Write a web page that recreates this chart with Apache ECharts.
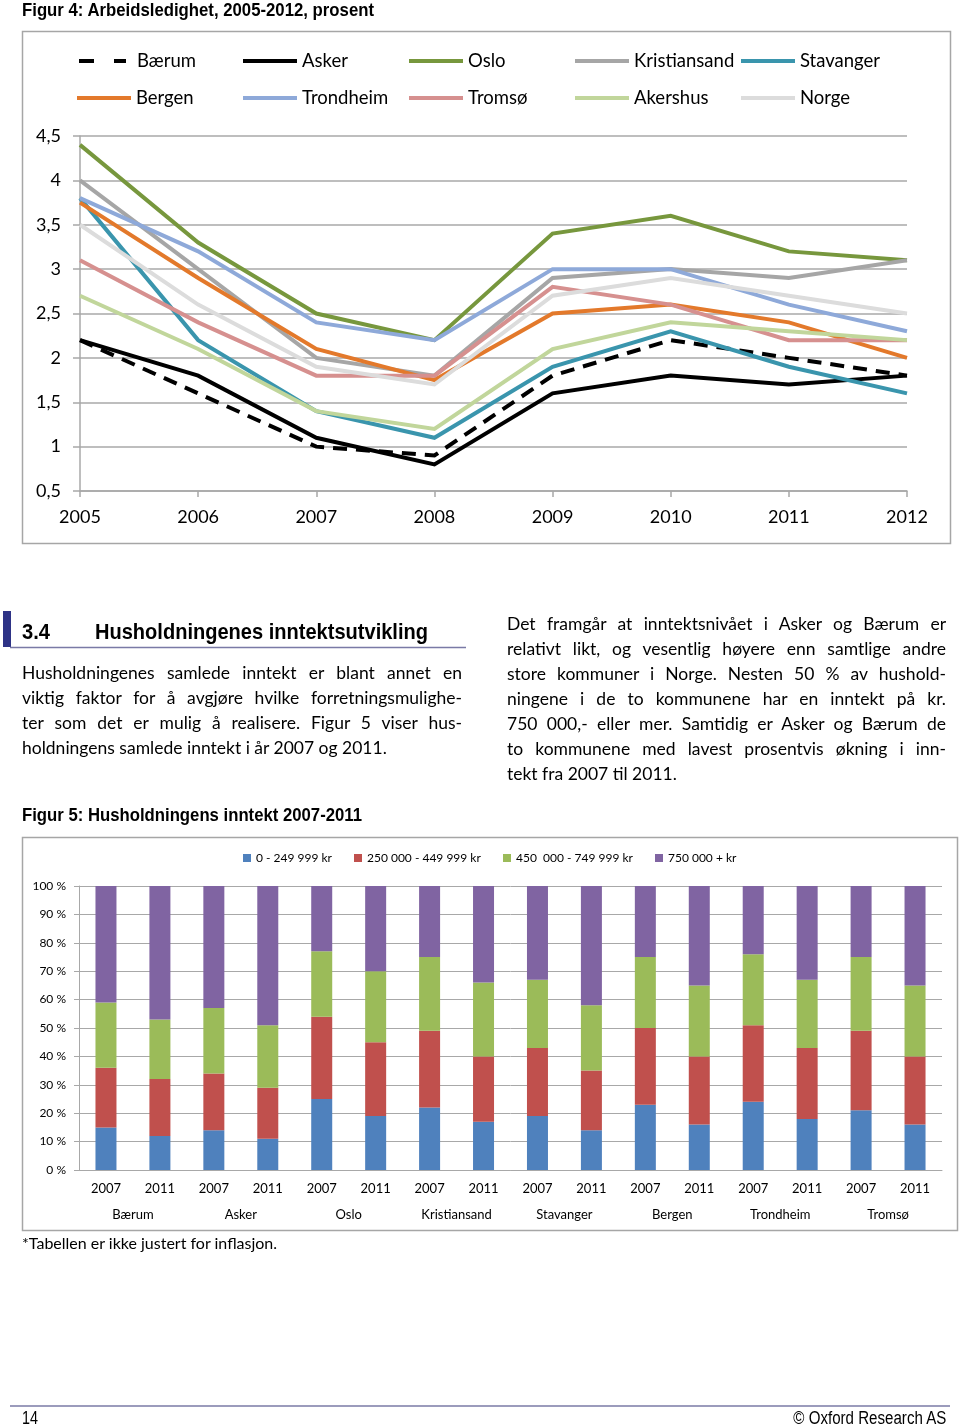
<!DOCTYPE html>
<html><head><meta charset="utf-8">
<script src="https://cdn.jsdelivr.net/npm/echarts@6/dist/echarts.min.js"></script>
<style>
html,body{margin:0;padding:0;background:#fff;}
#page{position:relative;width:960px;height:1426px;overflow:hidden;background:#fff;}
#chart{position:absolute;left:0;top:0;width:960px;height:1426px;}
.t{position:absolute;white-space:nowrap;color:#000;}
.narrow{font-family:"Liberation Sans",Arial,sans-serif;transform-origin:0 50%;}
.para{position:absolute;font-family:Lato,sans-serif;font-size:17.5px;color:#000;}
.para div{height:25px;line-height:25px;text-align:justify;text-align-last:justify;}
.para div.last{text-align-last:left;}
</style></head>
<body>
<div id="page">
<div id="chart"></div>
<div class="t narrow" data-w="352" style="left:22px;top:0px;font-size:19px;line-height:20px;font-weight:bold;">Figur 4: Arbeidsledighet, 2005-2012, prosent</div>
<div class="t narrow" data-w="28" style="left:22px;top:619px;font-size:22px;line-height:26px;font-weight:bold;">3.4</div>
<div class="t narrow" data-w="333" style="left:95px;top:619px;font-size:22px;line-height:26px;font-weight:bold;">Husholdningenes inntektsutvikling</div>
<div class="para" style="left:22px;top:660px;width:440px;">
<div>Husholdningenes samlede inntekt er blant annet en</div>
<div>viktig faktor for å avgjøre hvilke forretningsmulighe-</div>
<div>ter som det er mulig å realisere. Figur 5 viser hus-</div>
<div class="last">holdningens samlede inntekt i år 2007 og 2011.</div>
</div>
<div class="para" style="left:507px;top:611px;width:439px;">
<div>Det framgår at inntektsnivået i Asker og Bærum er</div>
<div>relativt likt, og vesentlig høyere enn samtlige andre</div>
<div>store kommuner i Norge. Nesten 50 % av hushold-</div>
<div>ningene i de to kommunene har en inntekt på kr.</div>
<div>750 000,- eller mer. Samtidig er Asker og Bærum de</div>
<div>to kommunene med lavest prosentvis økning i inn-</div>
<div class="last">tekt fra 2007 til 2011.</div>
</div>
<div class="t narrow" data-w="340" style="left:22px;top:805px;font-size:19px;line-height:20px;font-weight:bold;">Figur 5: Husholdningens inntekt 2007-2011</div>
<div class="t" style="left:22px;top:1233px;font-family:Lato,sans-serif;font-size:16px;line-height:20px;">*Tabellen er ikke justert for inflasjon.</div>
<div class="t narrow" data-w="16" style="left:22px;top:1408px;font-size:18px;line-height:20px;">14</div>
<div class="t narrow" data-w="153" data-right="1" style="right:14px;top:1408px;font-size:18px;line-height:20px;">© Oxford Research AS</div>
</div>
<script>
// ---------- Figure 4 data ----------
const years = ['2005','2006','2007','2008','2009','2010','2011','2012'];
const yTicks = [0.5, 4.5, 0.5]; // min, max, interval
const baerum       = [2.2, 1.6, 1.0, 0.9, 1.8, 2.2, 2.0, 1.8];
const asker        = [2.2, 1.8, 1.1, 0.8, 1.6, 1.8, 1.7, 1.8];
const oslo         = [4.4, 3.3, 2.5, 2.2, 3.4, 3.6, 3.2, 3.1];
const kristiansand = [4.0, 3.0, 2.0, 1.8, 2.9, 3.0, 2.9, 3.1];
const stavanger    = [3.8, 2.2, 1.4, 1.1, 1.9, 2.3, 1.9, 1.6];
const bergen       = [3.75, 2.9, 2.1, 1.75, 2.5, 2.6, 2.4, 2.0];
const trondheim    = [3.8, 3.2, 2.4, 2.2, 3.0, 3.0, 2.6, 2.3];
const tromso       = [3.1, 2.4, 1.8, 1.8, 2.8, 2.6, 2.2, 2.2];
const akershus     = [2.7, 2.1, 1.4, 1.2, 2.1, 2.4, 2.3, 2.2];
const norge        = [3.5, 2.6, 1.9, 1.7, 2.7, 2.9, 2.7, 2.5];
const lineNames = ['Bærum','Asker','Oslo','Kristiansand','Stavanger','Bergen','Trondheim','Tromsø','Akershus','Norge'];
const lineData = [baerum, asker, oslo, kristiansand, stavanger, bergen, trondheim, tromso, akershus, norge];

// ---------- Figure 5 data ----------
const barYears = ['2007','2011','2007','2011','2007','2011','2007','2011','2007','2011','2007','2011','2007','2011','2007','2011'];
const cities = ['Bærum','Asker','Oslo','Kristiansand','Stavanger','Bergen','Trondheim','Tromsø'];
const incomeNames = ['0 - 249 999 kr','250 000 - 449 999 kr','450  000 - 749 999 kr','750 000 + kr'];
const inc0   = [15,12,14,11,25,19,22,17,19,14,23,16,24,18,21,16];
const inc250 = [21,20,20,18,29,26,27,23,24,21,27,24,27,25,28,24];
const inc450 = [23,21,23,22,23,25,26,26,24,23,25,25,25,24,26,25];
const inc750 = [41,47,43,49,23,30,25,34,33,42,25,35,24,33,25,35];
const incomeData = [inc0, inc250, inc450, inc750];

// condense heading texts (narrow typeface substitute)
document.querySelectorAll('[data-w]').forEach(el => {
  const w = el.getBoundingClientRect().width;
  const target = parseFloat(el.dataset.w);
  if (el.dataset.right) el.style.transformOrigin = '100% 50%';
  el.style.transform = 'scaleX(' + (target / w) + ')';
});

// ---------- styles ----------
const lineColors = ['#000000','#000000','#77973d','#a6a6a6','#3a95ad','#e3792b','#8ea9d9','#d6908f','#c1d69b','#dcdcdc'];
const barColors = ['#4f81bd','#c0504d','#9bbb59','#8064a2'];
const gridGray = '#a8a8a8';
const FONT = 'Lato, sans-serif';

const chart = echarts.init(document.getElementById('chart'), null, {renderer:'canvas'});

const series = [];
lineNames.forEach((n, i) => {
  series.push({
    name: n, type: 'line', xAxisIndex: 0, yAxisIndex: 0,
    data: lineData[i], symbol: 'none', showSymbol: false, silent: true,
    lineStyle: { color: lineColors[i], width: 4, type: i === 0 ? [14, 9] : 'solid', cap: 'butt', join: 'miter' },
    itemStyle: { color: lineColors[i] },
    animation: false
  });
});
incomeNames.forEach((n, i) => {
  series.push({
    name: n, type: 'bar', stack: 'inc', xAxisIndex: 1, yAxisIndex: 1,
    data: incomeData[i], barWidth: 21, silent: true,
    itemStyle: { color: barColors[i] }, animation: false
  });
});

const legends = [];
const legendCols = [77, 243, 409, 575, 741];
lineNames.forEach((n, i) => {
  const first = i === 0;
  const item = first
    ? { name: n, icon: 'path://M0,0H15V4H0Z M35,0H47V4H35Z' }
    : { name: n, icon: 'rect' };
  legends.push({
    data: [item], left: first ? 79 : legendCols[i % 5], top: i < 5 ? 50 : 87, padding: 0,
    itemWidth: first ? 47 : 54, itemHeight: 4, selectedMode: false, symbolKeepAspect: false,
    textStyle: { fontFamily: FONT, fontSize: 18.5, color: '#000', lineHeight: 22,
      padding: first ? [0, 0, 0, 6] : 0 }
  });
});
const barLegendLefts = [243, 354, 503, 655];
incomeNames.forEach((n, i) => {
  legends.push({
    data: [{ name: n, icon: 'rect' }], left: barLegendLefts[i], top: 851, padding: 0,
    itemWidth: 8, itemHeight: 8, selectedMode: false,
    textStyle: { fontFamily: FONT, fontSize: 12, color: '#000', lineHeight: 14 }
  });
});

const option = {
  backgroundColor: 'transparent',
  animation: false,
  grid: [
    { left: 80, top: 136, width: 827, height: 355, containLabel: false },
    { left: 79, top: 886, width: 863, height: 284, containLabel: false }
  ],
  legend: legends,
  xAxis: [
    { gridIndex: 0, type: 'category', data: years, boundaryGap: false,
      axisLine: { lineStyle: { color: gridGray, width: 1.5 } },
      axisTick: { length: 6, lineStyle: { color: gridGray, width: 1.5 }, alignWithLabel: true },
      axisLabel: { fontFamily: FONT, fontSize: 18, color: '#000', margin: 17 },
      splitLine: { show: false } },
    { gridIndex: 1, type: 'category', data: barYears, boundaryGap: true,
      axisLine: { lineStyle: { color: gridGray, width: 1 } },
      axisTick: { length: 30, interval: 0, lineStyle: { color: '#c8c8c8', width: 1 } },
      axisLabel: { fontFamily: FONT, fontSize: 13, color: '#000', margin: 12, interval: 0 },
      splitLine: { show: false } },
    { gridIndex: 1, type: 'category', data: cities, boundaryGap: true, position: 'bottom',
      axisLine: { show: false },
      axisTick: { length: 55, interval: 0, lineStyle: { color: '#c8c8c8', width: 1 } },
      axisLabel: { fontFamily: FONT, fontSize: 13, color: '#000', margin: 38, interval: 0 },
      splitLine: { show: false } }
  ],
  yAxis: [
    { gridIndex: 0, type: 'value', min: yTicks[0], max: yTicks[1], interval: yTicks[2],
      axisLine: { show: true, lineStyle: { color: gridGray, width: 1.5 } },
      axisTick: { show: true, length: 7, lineStyle: { color: gridGray, width: 1.5 } },
      axisLabel: { fontFamily: FONT, fontSize: 18, color: '#000', margin: 19,
        formatter: v => String(v).replace('.', ',') },
      splitLine: { lineStyle: { color: gridGray, width: 1.5 } } },
    { gridIndex: 1, type: 'value', min: 0, max: 100, interval: 10,
      axisLine: { show: true, lineStyle: { color: gridGray, width: 1 } },
      axisTick: { show: true, length: 5, lineStyle: { color: gridGray, width: 1 } },
      axisLabel: { fontFamily: FONT, fontSize: 12, color: '#000', margin: 13, formatter: '{value} %' },
      splitLine: { lineStyle: { color: gridGray, width: 1 } } }
  ],
  graphic: [
    { type: 'rect', shape: { x: 22.5, y: 31.5, width: 928, height: 512 }, style: { fill: 'none', stroke: '#a6a6a6', lineWidth: 1.5 }, silent: true },
    { type: 'rect', shape: { x: 22.5, y: 837.5, width: 935, height: 393 }, style: { fill: 'none', stroke: '#a6a6a6', lineWidth: 1.5 }, silent: true },
    { type: 'rect', shape: { x: 3, y: 611, width: 8, height: 36 }, style: { fill: '#2e3386' }, silent: true },
    { type: 'line', shape: { x1: 10, y1: 647.5, x2: 466, y2: 647.5 }, style: { stroke: '#7a7aa6', lineWidth: 1.5 }, silent: true },
    { type: 'line', shape: { x1: 10, y1: 1406, x2: 950, y2: 1406 }, style: { stroke: '#7a7aa6', lineWidth: 1.5 }, silent: true }
  ],
  series: series
};
chart.setOption(option);
</script>
</body></html>
